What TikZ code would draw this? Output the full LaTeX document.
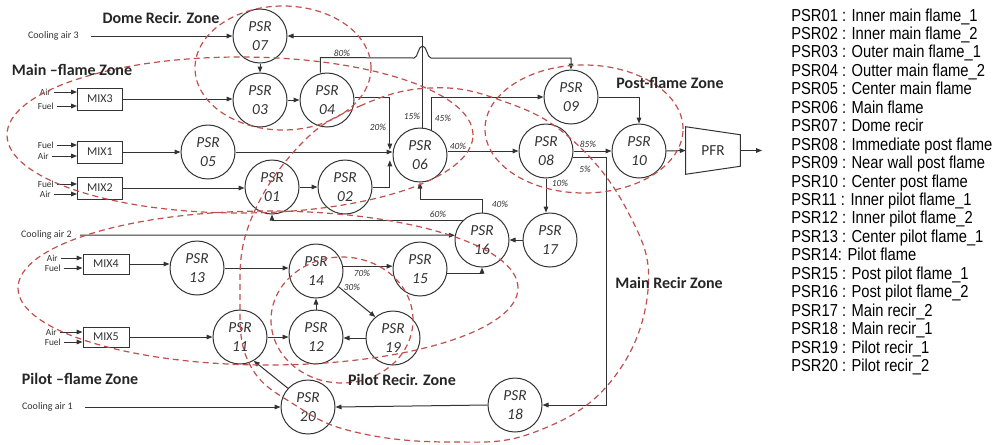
\documentclass[tikz,border=0pt]{standalone}
\usepackage{fontspec}
\setmainfont{Carlito}
\newfontfamily\legfont{Liberation Sans}
\usetikzlibrary{arrows.meta}
\definecolor{zonec}{HTML}{C0504D}
\definecolor{lnc}{HTML}{333333}
\newcommand\legline[1]{\scalebox{0.85}[1]{#1}}
\begin{document}
\begin{tikzpicture}[x=0.75pt,y=-0.75pt,
  psr/.style={circle,draw=lnc,line width=0.75pt,minimum size=40.5pt,inner sep=0pt,align=center,
    font=\fontsize{11.5}{14}\selectfont\itshape,text=lnc},
  mix/.style={draw=lnc,line width=0.75pt,minimum width=33.75pt,minimum height=16.5pt,inner sep=0pt,
    font=\fontsize{9}{10}\selectfont,text=lnc},
  mixb/.style={mix,minimum width=34.5pt,minimum height=15pt},
  arr/.style={draw=lnc,line width=0.75pt,-{Triangle[length=4.5pt,width=3.5pt]}},
  pct/.style={font=\fontsize{7}{8}\selectfont\itshape,text=lnc,inner sep=0pt},
  inlab/.style={font=\fontsize{7}{8}\selectfont,text=lnc,inner sep=0pt,anchor=east},
  cool/.style={font=\fontsize{7.5}{9}\selectfont,text=lnc,inner sep=0pt,anchor=east},
  zonelab/.style={font=\fontsize{12}{14}\selectfont\bfseries,text=black!85,inner sep=0pt},
  zone/.style={draw=zonec,line width=0.9pt,dash pattern=on 4.5pt off 3pt},
  leg/.style={font=\legfont\fontsize{13}{14}\selectfont,anchor=base west,inner sep=0pt,text=black}
]
\fill[white] (0,0) rectangle (995,444);
\useasboundingbox (0,0) rectangle (995,444);

% PSR nodes
\node[psr] (p07) at (260,36) {PSR\\07};
\node[psr] (p03) at (260,100) {PSR\\03};
\node[psr] (p04) at (327,100) {PSR\\04};
\node[psr] (p05) at (208,152) {PSR\\05};
\node[psr] (p01) at (272,187) {PSR\\01};
\node[psr] (p02) at (345,187) {PSR\\02};
\node[psr] (p06) at (420,155) {PSR\\06};
\node[psr] (p09) at (571,97) {PSR\\09};
\node[psr] (p08) at (546,151) {PSR\\08};
\node[psr] (p10) at (639,151) {PSR\\10};
\node[psr] (p16) at (482,240) {PSR\\16};
\node[psr] (p17) at (550,240) {PSR\\17};
\node[psr] (p13) at (197,268) {PSR\\13};
\node[psr] (p14) at (316,271) {PSR\\14};
\node[psr] (p15) at (420,269) {PSR\\15};
\node[psr] (p11) at (240,337) {PSR\\11};
\node[psr] (p12) at (316,337) {PSR\\12};
\node[psr] (p19) at (393,338) {PSR\\19};
\node[psr] (p20) at (308,407) {PSR\\20};
\node[psr] (p18) at (515,405) {PSR\\18};

% mixers
\node[mix] (m3) at (100,99) {MIX3};
\node[mix] (m1) at (100,152) {MIX1};
\node[mix] (m2) at (100,188) {MIX2};
\node[mixb] (m4) at (106,264) {MIX4};
\node[mixb] (m5) at (106,337) {MIX5};

% PFR
\node[minimum width=40.5pt,minimum height=35.25pt,inner sep=0pt,font=\fontsize{11.5}{13}\selectfont,text=lnc] (pfr) at (713,150.5) {PFR};
\draw[draw=lnc,line width=0.75pt] (pfr.north west) -- ([yshift=-6pt]pfr.north east) -- ([yshift=6pt]pfr.south east) -- (pfr.south west) -- cycle;
\coordinate (out) at (762,150.5);

% inputs
\node[inlab] (a3) at (51,92) {Air};
\node[inlab] (f3) at (54,106) {Fuel};
\node[inlab] (f1) at (54,145) {Fuel};
\node[inlab] (a1) at (49,156) {Air};
\node[inlab] (f2) at (54,184) {Fuel};
\node[inlab] (a2) at (51,194) {Air};
\node[inlab] (a4) at (58,258) {Air};
\node[inlab] (f4) at (61,268) {Fuel};
\node[inlab] (a5) at (57,332) {Air};
\node[inlab] (f5) at (61,342) {Fuel};
\foreach \l/\m in {a3/m3,f3/m3,f1/m1,a1/m1,f2/m2,a2/m2,a4/m4,f4/m4,a5/m5,f5/m5}
  \draw[arr] ([xshift=2.5pt]\l.east) -- (\l.east -| \m.west);

% cooling air
\node[cool] (ca3) at (79,36) {Cooling air 3};
\node[cool] (ca2) at (72,235) {Cooling air 2};
\node[cool] (ca1) at (73,407) {Cooling air 1};
\draw[arr] ([xshift=9pt]ca3.east) -- (p07.west);
\draw[arr] ([xshift=6pt]ca2.east) -- (p16.170);
\draw[arr] ([xshift=9pt]ca1.east) -- (p20.west);

% connectors upper part
\draw[arr] (p07.south) -- (p03.north);
\draw[arr] (m3.east) -- (m3.east -| p03.west);
\draw[arr] (p03.east) -- (p04.west);
\draw[arr] ([xshift=-5pt]p04.north) -- ++(0,-15) -- (414,58) .. controls (418,58) and (418,46) .. (422.5,46) .. controls (427,46) and (427,58) .. (431,58) -| (p09.north);
\draw[arr] ([xshift=2pt]p06.north) |- (p07.east);
\draw[arr] (p06.65) |- (p09.west);
\draw[arr] (p06.east |- p08.west) -- (p08.west);
\draw[arr] ([yshift=2pt]p04.east) -| ([xshift=-2pt,yshift=4pt]p06.west);
\draw[arr] (p05.east) -- (p05.east -| p06.west);
\draw[arr] (p02.east) -| ([xshift=-2pt,yshift=-4pt]p06.west);
\draw[arr] (m1.east) -- (p05.west);
\draw[arr] (m2.east) -- (m2.east -| p01.west);
\draw[arr] (p01.east) -- (p02.west);
\draw[arr] (p16.north) -- ++(0,-13) -| (p06.south);
\draw[arr] (p16.135) -| (p01.south);
\draw[arr] (p17.west) -- (p16.east);
\draw[arr] (p08.south) -- (p08.south |- p17.north);
\draw[arr] (p08.east) -- (p10.west);
\coordinate (r5) at (606,405);
\draw[arr] (p08.-13) -| (r5) -- (p18.east);
\draw[arr] (p09.east) -| (p10.north);
\draw[arr] (p10.east) -- (pfr.west);
\draw[arr] (pfr.east) -- (out);

% connectors lower part
\draw[arr] (m4.east) -- (m4.east -| p13.west);
\draw[arr] (p13.east) -- (p13.east -| p14.west);
\draw[arr] (p14.10) -- (p14.10 -| p15.west);
\draw[arr] (p14.-35) -- (p19.130);
\draw[arr] (p15.-10) -| (p16.south);
\draw[arr] (p12.north) -- (p14.south);
\draw[arr] (p19.west) -- (p19.west -| p12.east);
\draw[arr] (m5.east) -- (p11.west);
\draw[arr] (p11.east) -- (p12.west);
\draw[arr] (p20.137) -- (p11.-60);
\draw[arr] (p18.west) -- (p20.east);

% percentages
\node[pct] (l80) at (342,53) {80\%};
\node[pct] (l15) at (412,116) {15\%};
\node[pct] (l45) at (443,118) {45\%};
\node[pct] (l40a) at (458,146) {40\%};
\node[pct] (l20) at (378,127) {20\%};
\node[pct] (l40b) at (500,204) {40\%};
\node[pct] (l60) at (438,214) {60\%};
\node[pct] (l10) at (560,183) {10\%};
\node[pct] (l85) at (588,144) {85\%};
\node[pct] (l5) at (585,169) {5\%};
\node[pct] (l70) at (362,273) {70\%};
\node[pct] (l30) at (352,287) {30\%};

% zones
\draw[zone] (283,68) ellipse [x radius=66pt, y radius=46.5pt];
\draw[zone] (240,135) ellipse [x radius=174.75pt, y radius=58.5pt];
\draw[zone] (268,288) ellipse [x radius=187.5pt, y radius=57.75pt];
\draw[zone] (342,320) ellipse [x radius=53.25pt, y radius=47.25pt];
\draw[zone] (584,129) ellipse [x radius=74.25pt, y radius=48pt];
\draw[zone] plot[smooth cycle, tension=0.7] coordinates {(300,145) (360,106) (430,88) (500,100) (570,138) (628,212) (648,290) (612,380) (535,432) (450,442) (355,432) (295,405) (250,365) (240,300) (250,222)};

\node[zonelab] (zd) at (161,18) {Dome Recir. Zone};
\node[zonelab] (zm) at (72,70) {Main –flame Zone};
\node[zonelab] (zp) at (670,83) {Post-flame Zone};
\node[zonelab] (zr) at (669,283) {Main Recir Zone};
\node[zonelab] (zpr) at (402,380) {Pilot Recir. Zone};
\node[zonelab] (zpf) at (80,379) {Pilot –flame Zone};

% legend
\foreach \t [count=\i] in {
  {PSR01 : Inner main flame\_1},
  {PSR02 : Inner main flame\_2},
  {PSR03 : Outer main flame\_1},
  {PSR04 : Outter main flame\_2},
  {PSR05 : Center main flame},
  {PSR06 : Main flame},
  {PSR07 : Dome recir},
  {PSR08 : Immediate post flame},
  {PSR09 : Near wall post flame},
  {PSR10 : Center post flame},
  {PSR11 : Inner pilot flame\_1},
  {PSR12 : Inner pilot flame\_2},
  {PSR13 : Center pilot flame\_1},
  {PSR14: Pilot flame},
  {PSR15 : Post pilot flame\_1},
  {PSR16 : Post pilot flame\_2},
  {PSR17 : Main recir\_2},
  {PSR18 : Main recir\_1},
  {PSR19 : Pilot recir\_1},
  {PSR20 : Pilot recir\_2}}
  \node[leg] (leg\i) at (791,{21+18.45*(\i-1)}) {\legline{\t}};
\end{tikzpicture}
\end{document}
